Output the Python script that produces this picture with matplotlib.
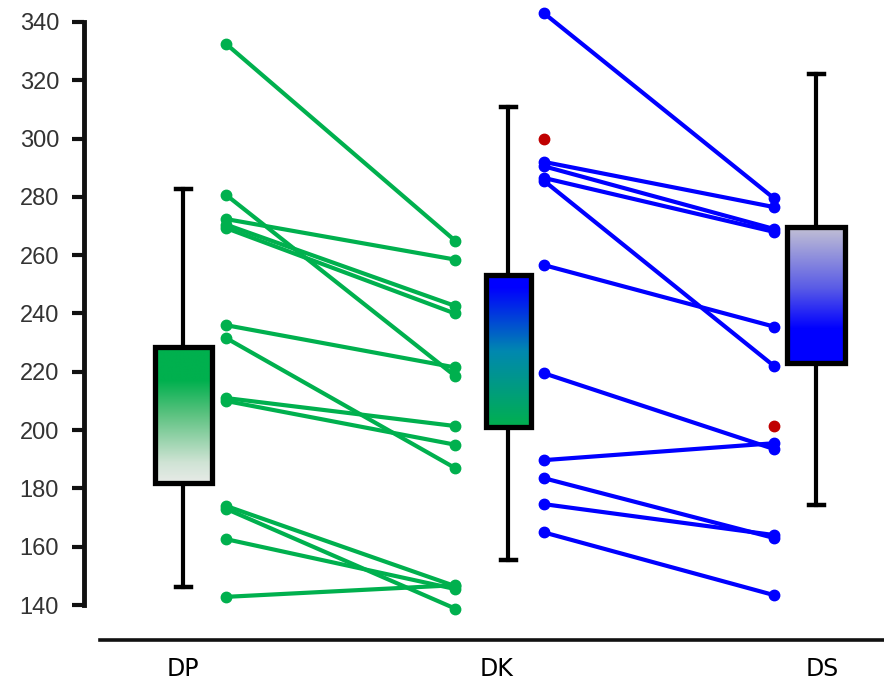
import numpy as np
import matplotlib
matplotlib.use("Agg")
import matplotlib.pyplot as plt
from matplotlib.colors import LinearSegmentedColormap

# ---------------- data ----------------
categories = ["DP", "DK", "DS"]

green_before = [332.5, 280.7, 272.4, 270.5, 269.3, 236.0, 231.6, 211.0, 210.0, 174.0, 173.0, 162.6, 142.8]
green_after  = [265.0, 218.6, 258.5, 242.6, 240.0, 221.5, 187.0, 201.4, 195.0, 146.5, 138.8, 145.5, 146.8]

blue_before = [343.0, 292.0, 290.5, 286.5, 285.5, 256.6, 219.5, 189.7, 183.5, 174.6, 164.9]
blue_after  = [279.5, 276.5, 269.0, 268.0, 222.0, 235.5, 193.5, 195.5, 163.0, 164.0, 143.4]

outlier_dk = [300.0]
outlier_ds = [201.5]

box_q1     = [181.8, 201.2, 222.9]
box_q3     = [228.6, 253.2, 269.8]
box_whislo = [146.3, 155.4, 174.3]
box_whishi = [282.6, 311.0, 322.2]

y_ticks = [140, 160, 180, 200, 220, 240, 260, 280, 300, 320, 340]

# ---------------- layout (x positions in axis units) ----------------
box_pos = [1.83, 5.08, 8.16]
box_w = [0.57, 0.45, 0.58]
green_x = (2.26, 4.55)
blue_x = (5.44, 7.74)
label_pos = [1.83, 4.97, 8.22]

GREEN = "#00b04e"
BLUE = "#0000ff"
RED = "#c00000"
DARK = "#111111"

W, H = 884, 689
fig = plt.figure(figsize=(W / 100, H / 100), dpi=100)
ax_left = 84 / W
ax_right = 1.0
y_top_px = 7.4
y_bot_px = 640
ax = fig.add_axes([ax_left, 1 - y_bot_px / H, ax_right - ax_left, (y_bot_px - y_top_px) / H])
ax.set_xlim(0.84, 8.84)
ax.set_ylim(128.0, 345.0)

# paired lines
for b, a in zip(green_before, green_after):
    ax.plot(green_x, (b, a), color=GREEN, lw=3.0, marker="o", ms=7.5,
            solid_capstyle="round", zorder=4)
for b, a in zip(blue_before, blue_after):
    ax.plot(blue_x, (b, a), color=BLUE, lw=3.0, marker="o", ms=7.5,
            solid_capstyle="round", zorder=4)

ax.plot([blue_x[0]] * len(outlier_dk), outlier_dk, "o", color=RED, ms=7.5, zorder=5)
ax.plot([blue_x[1]] * len(outlier_ds), outlier_ds, "o", color=RED, ms=7.5, zorder=5)

# boxes
stats = []
for i in range(3):
    stats.append(dict(med=box_q1[i], q1=box_q1[i], q3=box_q3[i],
                      whislo=box_whislo[i], whishi=box_whishi[i], fliers=[]))
bp = ax.bxp(stats, positions=box_pos, widths=box_w, patch_artist=True,
            showfliers=False, capwidths=[0.15, 0.15, 0.15],
            boxprops=dict(facecolor="none", edgecolor="black", linewidth=3.8, zorder=3),
            whiskerprops=dict(color="black", linewidth=3.0, zorder=1),
            capprops=dict(color="black", linewidth=3.2, zorder=1),
            medianprops=dict(visible=False), manage_ticks=False)

cmaps = [
    LinearSegmentedColormap.from_list("dp", [(0, "#e8ebe8"), (0.15, "#cfe3d4"), (0.5, "#5cc280"), (0.75, GREEN), (1, GREEN)]),
    LinearSegmentedColormap.from_list("dk", [(0, GREEN), (0.5, "#0088b0"), (0.92, BLUE), (1, BLUE)]),
    LinearSegmentedColormap.from_list("ds", [(0, BLUE), (0.25, BLUE), (0.55, "#5a5ce6"), (1, "#c4c2d4")]),
]
grad = np.linspace(0, 1, 256).reshape(-1, 1)
for i, patch in enumerate(bp["boxes"]):
    x0 = box_pos[i] - box_w[i] / 2
    x1 = box_pos[i] + box_w[i] / 2
    im = ax.imshow(grad, cmap=cmaps[i], origin="lower", aspect="auto",
                   extent=(x0, x1, box_q1[i], box_q3[i]), zorder=2.5,
                   interpolation="bilinear")
    im.set_clip_path(patch)
ax.set_xlim(0.84, 8.84)
ax.set_ylim(128.0, 345.0)

# axes styling
for s in ["top", "right"]:
    ax.spines[s].set_visible(False)
ax.spines["left"].set_bounds(140, 340)
ax.spines["left"].set_linewidth(3.5)
ax.spines["left"].set_color(DARK)
ax.spines["bottom"].set_bounds(1.0, 8.84)
ax.spines["bottom"].set_linewidth(2.6)
ax.spines["bottom"].set_color(DARK)

ax.set_yticks(y_ticks)
ax.set_yticklabels([str(t) for t in y_ticks], fontsize=17, color="#333333",
                   family="Liberation Sans")
ax.tick_params(axis="y", direction="out", length=9, width=3.0, color=DARK, pad=9)

ax.set_xticks(label_pos)
ax.set_xticklabels(categories, fontsize=17, color="black", family="DejaVu Sans")
ax.tick_params(axis="x", length=0, pad=12)

fig.savefig("out.png", dpi=100)
